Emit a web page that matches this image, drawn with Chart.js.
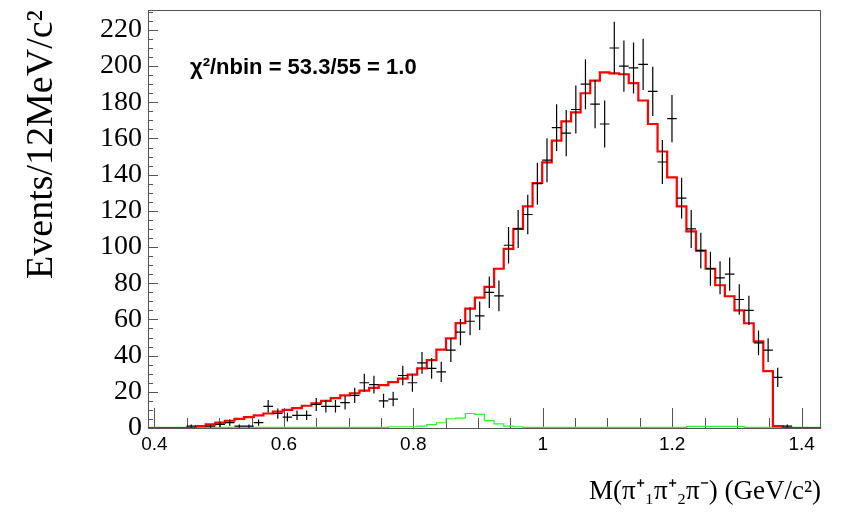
<!DOCTYPE html>
<html><head><meta charset="utf-8">
<script src="https://cdn.jsdelivr.net/npm/chart.js@4/dist/chart.umd.min.js"></script>
<style>html,body{margin:0;padding:0;background:#fff;}#wrap{width:853px;height:513px;}</style>
</head><body><div id="wrap"><canvas id="c" width="853" height="513"></canvas></div>
<script>
// ---- axis ranges / binning ----
const xMin = 0.39, xMax = 1.43, nBins = 70;
const yMin = 0, yMax = 231;
// ---- tick labels ----
const xTickValues = [0.4, 0.6, 0.8, 1.0, 1.2, 1.4];
const xTickLabels = ['0.4', '0.6', '0.8', '1', '1.2', '1.4'];
const xMinorStep = 0.05;
const yTickValues = [0, 20, 40, 60, 80, 100, 120, 140, 160, 180, 200, 220];
const yMinorStep = 5;
// ---- series (70 bins) ----
const dataCounts = [
  0, 0, 0, 0, 1, 0, 1, 2, 3, 1,
  1, 3, 12, 8, 6, 7, 7, 13, 12, 12,
  14, 18, 25, 24, 15, 16, 29, 25, 36, 33,
  31, 43, 53, 59, 62, 75, 73, 101, 110, 118,
  135, 148, 166, 163, 176, 190, 179, 168, 210, 200,
  199, 201, 186, 147, 171, 127, 110, 98, 88, 83,
  85, 71, 65, 47, 43, 28, 1, 0, 0, 0
];
const fitValues = [
  0, 0, 0, 0, 0, 0, 1.0, 2.0, 3.0, 4.0,
  5.0, 6.0, 7.0, 8.0, 9.0, 10.0, 11.0, 12.3, 13.6, 15.0,
  16.5, 18.0, 19.2, 20.7, 22.2, 23.7, 25.3, 27.3, 29.5, 33.0,
  37.5, 43.3, 49.5, 58, 66, 72, 78, 88, 99, 110,
  122.5, 135.4, 146.8, 158.8, 169.4, 174.4, 185, 192, 196.5, 196,
  195.5, 190.6, 181, 168, 152.8, 138.5, 122.5, 108.7, 98, 88,
  78.9, 72.8, 65, 57.9, 47.9, 31.4, 1, 0, 0, 0
];
const greenValues = [
  0.3, 0.3, 0.3, 0.3, 0.3, 0.3, 0.3, 0.3, 0.3, 0.3,
  0.3, 0.3, 0.3, 0.3, 0.3, 0.3, 0.3, 0.3, 0.3, 0.3,
  0.4, 0.4, 0.4, 0.4, 0.4, 0.4, 0.7, 0.7, 0.7, 1.0,
  1.9, 2.9, 5.1, 5.5, 8.0, 7.5, 4.1, 2.3, 1.0, 0.7,
  0.4, 0.4, 0.4, 0.4, 0.4, 0.4, 0.4, 0.4, 0.4, 0.4,
  0.4, 0.4, 0.4, 0.4, 0.4, 0.4, 0.4, 0.9, 0.9, 0.9,
  0.9, 0.9, 0.9, 0.4, 0.4, 0.4, 0.4, 0.4, 0.4, 0.4
];
const chiText = 'χ²/nbin = 53.3/55 = 1.0';
const xTitle = 'M(π⁺₁π⁺₂π⁻) (GeV/c²)';
const yTitle = 'Events/12MeV/c²';

const binW = (xMax - xMin) / nBins;
function stepPoints(vals) {
  const pts = vals.map((v, k) => ({x: xMin + k * binW, y: v}));
  pts.push({x: xMin + nBins * binW, y: vals[vals.length - 1]});
  return pts;
}
const dataPoints = dataCounts.map((v, k) => ({x: xMin + (k + 0.5) * binW, y: v}));

const framePlugin = {
  id: 'frame',
  beforeDatasetsDraw(chart) {
    const {ctx, chartArea: a, scales: {x, y}} = chart;
    ctx.save();
    ctx.strokeStyle = '#555';
    ctx.lineWidth = 1;
    ctx.strokeRect(a.left + 0.5, a.top + 0.5, a.right - a.left - 1, a.bottom - a.top);
    ctx.beginPath();
    for (let v = 0; v <= yTickValues[yTickValues.length - 1] + 10; v += yMinorStep) {
      const py = Math.round(y.getPixelForValue(v)) + 0.5;
      if (py < a.top) break;
      const len = (v % 20 === 0) ? 10 : 5;
      ctx.moveTo(a.left, py); ctx.lineTo(a.left + len, py);
    }
    for (let i = 0; ; i++) {
      const v = xTickValues[0] + i * xMinorStep;
      if (v > xMax) break;
      const px = Math.round(x.getPixelForValue(v)) + 0.5;
      const len = (i % 4 === 0) ? 20 : 10;
      ctx.moveTo(px, a.bottom); ctx.lineTo(px, a.bottom - len);
    }
    ctx.stroke();
    ctx.restore();
  },
  afterDatasetsDraw(chart) {
    const {ctx, scales: {x, y}} = chart;
    const meta = chart.getDatasetMeta(2);
    ctx.save();
    ctx.strokeStyle = '#000';
    ctx.lineWidth = 1.2;
    ctx.beginPath();
    meta.data.forEach((pt, i) => {
      const v = dataCounts[i];
      if (v <= 0) return;
      const e = Math.sqrt(v);
      const cx = pt.x, cy = pt.y;
      const hw = (x.getPixelForValue(dataPoints[i].x + binW / 2) - x.getPixelForValue(dataPoints[i].x - binW / 2)) / 2;
      ctx.moveTo(cx - hw, cy); ctx.lineTo(cx + hw, cy);
      ctx.moveTo(cx, y.getPixelForValue(Math.min(v + e, yMax))); ctx.lineTo(cx, y.getPixelForValue(Math.max(v - e, 0)));
    });
    ctx.stroke();
    ctx.fillStyle = '#000';
    ctx.font = 'bold 22px "Liberation Sans", Arial, sans-serif';
    ctx.textBaseline = 'middle';
    ctx.fillText(chiText, 190, 68);
    ctx.restore();
  }
};

new Chart(document.getElementById('c'), {
  data: {
    datasets: [
      {type: 'line', label: 'fit', data: stepPoints(fitValues), stepped: 'after', borderColor: '#ff0000', borderWidth: 2.2, pointRadius: 0, fill: false, order: 0},
      {type: 'line', label: 'component', data: stepPoints(greenValues), stepped: 'after', borderColor: '#33ee33', borderWidth: 1.2, pointRadius: 0, fill: false, order: 1},
      {type: 'scatter', label: 'data', data: dataPoints, pointRadius: 0, showLine: false, order: 2}
    ]
  },
  options: {
    responsive: false,
    animation: false,
    devicePixelRatio: 1,
    layout: {padding: {left: 0, top: 10, right: 32, bottom: 0}},
    plugins: {legend: {display: false}, tooltip: {enabled: false}},
    scales: {
      x: {
        type: 'linear', min: xMin, max: xMax,
        afterBuildTicks: s => { s.ticks = xTickValues.map(v => ({value: v})); },
        afterFit: s => { s.height = 85; s.paddingLeft = 0; s.paddingRight = 0; },
        grid: {display: false, drawTicks: false},
        border: {display: false},
        ticks: {
          padding: 5, color: '#000',
          font: {family: '"Liberation Sans", Arial, sans-serif', size: 19},
          callback: (v) => { const i = xTickValues.findIndex(t => Math.abs(t - v) < 1e-9); return i >= 0 ? xTickLabels[i] : ''; },
          maxRotation: 0, autoSkip: false
        },
        title: {display: true, text: xTitle, align: 'end', color: '#000',
          font: {family: '"Liberation Serif", "Times New Roman", serif', size: 27}, padding: {top: 0, bottom: 5}}
      },
      y: {
        type: 'linear', min: yMin, max: yMax,
        afterBuildTicks: s => { s.ticks = yTickValues.map(v => ({value: v})); },
        afterFit: s => { s.width = 148; s.paddingTop = 0; s.paddingBottom = 0; },
        grid: {display: false, drawTicks: false},
        border: {display: false},
        ticks: {
          padding: 6, color: '#000',
          font: {family: '"Liberation Serif", "Times New Roman", serif', size: 28},
          autoSkip: false
        },
        title: {display: true, text: yTitle, align: 'end', color: '#000',
          font: {family: '"Liberation Serif", "Times New Roman", serif', size: 38}, padding: {top: 19, bottom: 0}}
      }
    }
  },
  plugins: [framePlugin]
});
</script>
</body></html>
